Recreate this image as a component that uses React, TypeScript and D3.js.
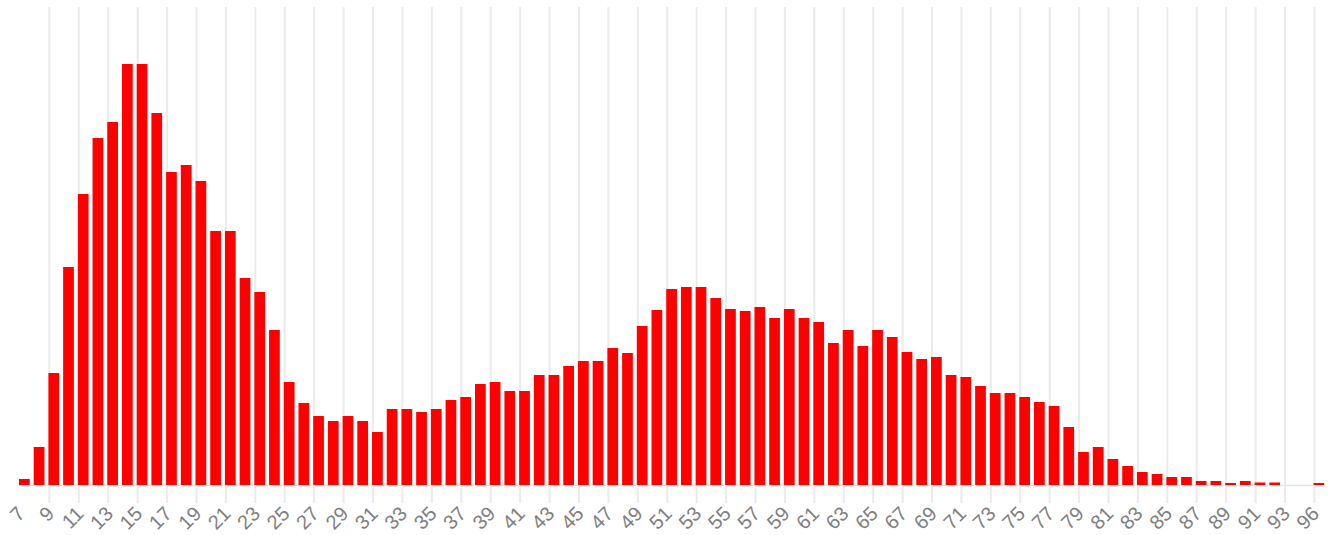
import React from "react";
import * as d3 from "d3";

const categories: string[] = [
  "7","8","9","10","11","12","13","14","15","16","17","18","19","20","21","22","23","24","25","26",
  "27","28","29","30","31","32","33","34","35","36","37","38","39","40","41","42","43","44","45","46",
  "47","48","49","50","51","52","53","54","55","56","57","58","59","60","61","62","63","64","65","66",
  "67","68","69","70","71","72","73","74","75","76","77","78","79","80","81","82","83","84","85","86",
  "87","88","89","90","91","92","93","94","96",
];

const values: number[] = [
  6, 38, 112, 218, 291, 347, 363, 421, 421, 372, 313, 320, 304, 254, 254, 207, 193, 155, 103, 82,
  69, 64, 69, 64, 53, 76, 76, 73, 76, 85, 88, 101, 103, 94, 94, 110, 110, 119, 124, 124,
  137, 132, 159, 175, 196, 198, 198, 187, 176, 174, 178, 167, 176, 167, 163, 142, 155, 139, 155, 148,
  133, 126, 128, 110, 108, 99, 92, 92, 88, 83, 79, 58, 33, 38, 26, 19, 13, 11, 8, 8,
  4, 4, 2, 4, 2.5, 2.5, 0, 0, 2,
];

const yMax = 478;

const W = 1337;
const H = 535;
const left = 19;
const right = 1324.2;
const top = 7;
const baseline = 485;

export default function App() {
  const x = d3.scaleBand<string>().domain(categories).range([left, right]).paddingInner(0.27).paddingOuter(0);
  const y = d3.scaleLinear().domain([0, yMax]).range([baseline, top]);
  const tickCats = categories.filter((_, i) => i % 2 === 0);

  return (
    <svg width={W} height={H} style={{ position: "absolute", left: 0, top: 0, background: "#fff" }}>
      {tickCats.map((c, i) =>
        i === 0 ? null : (
          <line key={"g" + c} x1={(x(c) as number) + 1} x2={(x(c) as number) + 1} y1={top} y2={503}
            stroke="#ebebeb" strokeWidth={2} />
        )
      )}
      <line x1={left} x2={right} y1={baseline + 0.5} y2={baseline + 0.5} stroke="#e6e6e6" strokeWidth={1.5} />
      {categories.map((c, i) => (
        <rect key={"b" + c} x={x(c)} y={y(values[i])} width={x.bandwidth()}
          height={baseline - y(values[i])} fill="#ff0000" />
      ))}
      {tickCats.map((c) => {
        const tx = (x(c) as number) + 7;
        return (
          <text key={"t" + c} transform={`translate(${tx},515) rotate(-45)`} textAnchor="end"
            fontFamily="'Liberation Sans', Arial, sans-serif" fontSize={20} fill="#808080">
            {c}
          </text>
        );
      })}
    </svg>
  );
}
